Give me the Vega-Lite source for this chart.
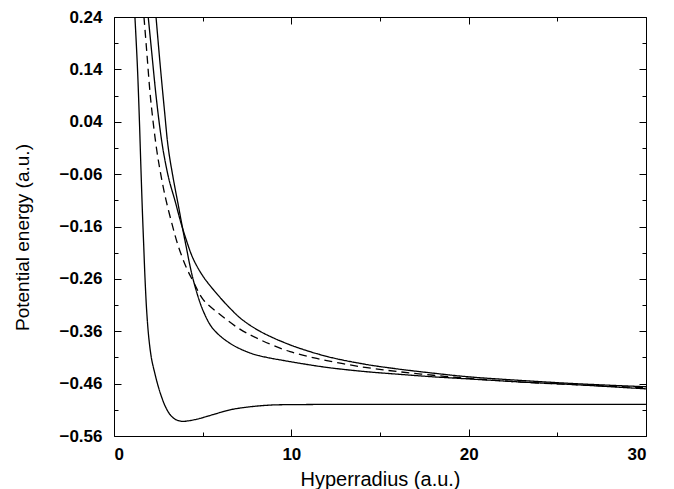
{
  "$schema": "https://vega.github.io/schema/vega-lite/v6.json",
  "width": 532,
  "height": 419,
  "autosize": {"type": "none"},
  "padding": {"left": 114, "top": 17, "right": 28, "bottom": 53},
  "background": "white",
  "config": {
    "view": {"stroke": "black", "strokeWidth": 1}
  },
  "data": {
    "values": [
      {"curve": "L", "style": "solid", "r": 1.18, "v": 0.24},
      {"curve": "L", "style": "solid", "r": 1.32, "v": 0.145},
      {"curve": "L", "style": "solid", "r": 1.43, "v": 0.045},
      {"curve": "L", "style": "solid", "r": 1.51, "v": -0.04},
      {"curve": "L", "style": "solid", "r": 1.6, "v": -0.13},
      {"curve": "L", "style": "solid", "r": 1.68, "v": -0.2},
      {"curve": "L", "style": "solid", "r": 1.75, "v": -0.26},
      {"curve": "L", "style": "solid", "r": 1.85, "v": -0.325},
      {"curve": "L", "style": "solid", "r": 1.97, "v": -0.375},
      {"curve": "L", "style": "solid", "r": 2.12, "v": -0.413},
      {"curve": "L", "style": "solid", "r": 2.3, "v": -0.44},
      {"curve": "L", "style": "solid", "r": 2.5, "v": -0.466},
      {"curve": "L", "style": "solid", "r": 2.7, "v": -0.487},
      {"curve": "L", "style": "solid", "r": 2.9, "v": -0.504},
      {"curve": "L", "style": "solid", "r": 3.16, "v": -0.519},
      {"curve": "L", "style": "solid", "r": 3.45, "v": -0.528},
      {"curve": "L", "style": "solid", "r": 3.82, "v": -0.532},
      {"curve": "L", "style": "solid", "r": 4.2, "v": -0.531},
      {"curve": "L", "style": "solid", "r": 4.66, "v": -0.528},
      {"curve": "L", "style": "solid", "r": 5.1, "v": -0.524},
      {"curve": "L", "style": "solid", "r": 5.6, "v": -0.519},
      {"curve": "L", "style": "solid", "r": 6.0, "v": -0.515},
      {"curve": "L", "style": "solid", "r": 6.54, "v": -0.51},
      {"curve": "L", "style": "solid", "r": 7.48, "v": -0.505},
      {"curve": "L", "style": "solid", "r": 8.8, "v": -0.501},
      {"curve": "L", "style": "solid", "r": 10.5, "v": -0.5},
      {"curve": "L", "style": "solid", "r": 15, "v": -0.4995},
      {"curve": "L", "style": "solid", "r": 20, "v": -0.4995},
      {"curve": "L", "style": "solid", "r": 30, "v": -0.4995},

      {"curve": "D", "style": "dashed", "r": 1.69, "v": 0.24},
      {"curve": "D", "style": "dashed", "r": 1.84, "v": 0.177},
      {"curve": "D", "style": "dashed", "r": 2.07, "v": 0.082},
      {"curve": "D", "style": "dashed", "r": 2.41, "v": -0.014},
      {"curve": "D", "style": "dashed", "r": 2.69, "v": -0.07},
      {"curve": "D", "style": "dashed", "r": 2.93, "v": -0.109},
      {"curve": "D", "style": "dashed", "r": 3.27, "v": -0.155},
      {"curve": "D", "style": "dashed", "r": 3.62, "v": -0.197},
      {"curve": "D", "style": "dashed", "r": 4.1, "v": -0.24},
      {"curve": "D", "style": "dashed", "r": 4.47, "v": -0.265},
      {"curve": "D", "style": "dashed", "r": 5.04, "v": -0.3},
      {"curve": "D", "style": "dashed", "r": 5.98, "v": -0.328},
      {"curve": "D", "style": "dashed", "r": 7.1, "v": -0.356},
      {"curve": "D", "style": "dashed", "r": 8.23, "v": -0.376},
      {"curve": "D", "style": "dashed", "r": 9.93, "v": -0.399},
      {"curve": "D", "style": "dashed", "r": 12, "v": -0.416},
      {"curve": "D", "style": "dashed", "r": 14.16, "v": -0.429},
      {"curve": "D", "style": "dashed", "r": 16, "v": -0.437},
      {"curve": "D", "style": "dashed", "r": 18, "v": -0.444},
      {"curve": "D", "style": "dashed", "r": 20, "v": -0.45},
      {"curve": "D", "style": "dashed", "r": 23, "v": -0.457},
      {"curve": "D", "style": "dashed", "r": 26, "v": -0.462},
      {"curve": "D", "style": "dashed", "r": 30, "v": -0.468},

      {"curve": "A", "style": "solid", "r": 1.93, "v": 0.24},
      {"curve": "A", "style": "solid", "r": 2.12, "v": 0.175},
      {"curve": "A", "style": "solid", "r": 2.37, "v": 0.09},
      {"curve": "A", "style": "solid", "r": 2.6, "v": 0.025},
      {"curve": "A", "style": "solid", "r": 2.8, "v": -0.02},
      {"curve": "A", "style": "solid", "r": 3.1, "v": -0.07},
      {"curve": "A", "style": "solid", "r": 3.45, "v": -0.112},
      {"curve": "A", "style": "solid", "r": 3.75, "v": -0.15},
      {"curve": "A", "style": "solid", "r": 4.05, "v": -0.183},
      {"curve": "A", "style": "solid", "r": 4.47, "v": -0.222},
      {"curve": "A", "style": "solid", "r": 5.04, "v": -0.256},
      {"curve": "A", "style": "solid", "r": 5.79, "v": -0.288},
      {"curve": "A", "style": "solid", "r": 6.54, "v": -0.316},
      {"curve": "A", "style": "solid", "r": 7.2, "v": -0.337},
      {"curve": "A", "style": "solid", "r": 8.23, "v": -0.36},
      {"curve": "A", "style": "solid", "r": 9.93, "v": -0.386},
      {"curve": "A", "style": "solid", "r": 12, "v": -0.408},
      {"curve": "A", "style": "solid", "r": 14.16, "v": -0.423},
      {"curve": "A", "style": "solid", "r": 16, "v": -0.432},
      {"curve": "A", "style": "solid", "r": 18, "v": -0.44},
      {"curve": "A", "style": "solid", "r": 20, "v": -0.447},
      {"curve": "A", "style": "solid", "r": 23, "v": -0.454},
      {"curve": "A", "style": "solid", "r": 26, "v": -0.46},
      {"curve": "A", "style": "solid", "r": 30, "v": -0.466},

      {"curve": "B", "style": "solid", "r": 2.37, "v": 0.24},
      {"curve": "B", "style": "solid", "r": 2.6, "v": 0.15},
      {"curve": "B", "style": "solid", "r": 2.85, "v": 0.06},
      {"curve": "B", "style": "solid", "r": 3.06, "v": -0.01},
      {"curve": "B", "style": "solid", "r": 3.35, "v": -0.07},
      {"curve": "B", "style": "solid", "r": 3.63, "v": -0.12},
      {"curve": "B", "style": "solid", "r": 3.82, "v": -0.155},
      {"curve": "B", "style": "solid", "r": 4.05, "v": -0.195},
      {"curve": "B", "style": "solid", "r": 4.47, "v": -0.262},
      {"curve": "B", "style": "solid", "r": 5.04, "v": -0.322},
      {"curve": "B", "style": "solid", "r": 5.6, "v": -0.356},
      {"curve": "B", "style": "solid", "r": 6.54, "v": -0.383},
      {"curve": "B", "style": "solid", "r": 7.48, "v": -0.399},
      {"curve": "B", "style": "solid", "r": 8.23, "v": -0.407},
      {"curve": "B", "style": "solid", "r": 9.93, "v": -0.418},
      {"curve": "B", "style": "solid", "r": 12, "v": -0.429},
      {"curve": "B", "style": "solid", "r": 14.16, "v": -0.437},
      {"curve": "B", "style": "solid", "r": 16, "v": -0.442},
      {"curve": "B", "style": "solid", "r": 18, "v": -0.447},
      {"curve": "B", "style": "solid", "r": 20, "v": -0.451},
      {"curve": "B", "style": "solid", "r": 23, "v": -0.457},
      {"curve": "B", "style": "solid", "r": 26, "v": -0.462},
      {"curve": "B", "style": "solid", "r": 30, "v": -0.47}
    ]
  },
  "layer": [
    {
      "mark": {"type": "line", "color": "black", "strokeWidth": 1.3, "interpolate": "catmull-rom", "clip": true},
      "encoding": {
        "x": {
          "field": "r", "type": "quantitative",
          "scale": {"domain": [0, 30], "nice": false},
          "axis": {
            "orient": "bottom",
            "domain": false,
            "grid": false,
            "ticks": false,
            "tickSize": 0,
            "values": [0, 10, 20, 30],
            "labelPadding": 10,
            "labelFont": "Liberation Sans",
            "labelFontWeight": "bold",
            "labelFontSize": 17,
            "labelColor": "black",
            "title": "Hyperradius (a.u.)",
            "titleFont": "Liberation Sans",
            "titleFontWeight": "normal",
            "titleColor": "black",
            "titleFontSize": 20,
            "titleX": 266,
            "titleY": 43,
            "titleBaseline": "middle",
            "titleAnchor": "middle"
          }
        },
        "y": {
          "field": "v", "type": "quantitative",
          "scale": {"domain": [-0.56, 0.24], "nice": false, "zero": false},
          "axis": {
            "orient": "left",
            "domain": false,
            "grid": false,
            "ticks": false,
            "tickSize": 0,
            "values": [-0.56, -0.46, -0.36, -0.26, -0.16, -0.06, 0.04, 0.14, 0.24],
            "labelExpr": "format(datum.value, '.2f')",
            "labelPadding": 12,
            "labelFont": "Liberation Sans",
            "labelFontWeight": "bold",
            "labelFontSize": 17,
            "labelColor": "black",
            "title": "Potential energy (a.u.)",
            "titleFont": "Liberation Sans",
            "titleFontWeight": "normal",
            "titleColor": "black",
            "titleFontSize": 19,
            "titleX": -92,
            "titleY": 220,
            "titleAngle": -90,
            "titleBaseline": "middle",
            "titleAnchor": "middle"
          }
        },
        "detail": {"field": "curve", "type": "nominal"},
        "strokeDash": {
          "field": "style", "type": "nominal",
          "scale": {"domain": ["solid", "dashed"], "range": [[1, 0], [8, 5]]},
          "legend": null
        }
      }
    },
    {
      "mark": {"type": "line", "opacity": 0, "clip": true},
      "encoding": {
        "x": {
          "field": "r", "type": "quantitative",
          "scale": {"domain": [0, 30], "nice": false},
          "axis": {
            "orient": "top",
            "offset": -419,
            "domain": false,
            "grid": false,
            "labels": false,
            "tickColor": "black",
            "tickWidth": 1,
            "values": [0, 5, 10, 15, 20, 25, 30],
            "tickSize": {"condition": {"test": "datum.value % 10 == 0", "value": 7}, "value": 4},
            "title": null
          }
        },
        "y": {
          "field": "v", "type": "quantitative",
          "scale": {"domain": [-0.56, 0.24], "nice": false, "zero": false},
          "axis": {
            "orient": "right",
            "offset": -532,
            "domain": false,
            "grid": false,
            "labels": false,
            "tickColor": "black",
            "tickWidth": 1,
            "values": [-0.56, -0.51, -0.46, -0.41, -0.36, -0.31, -0.26, -0.21, -0.16, -0.11, -0.06, -0.01, 0.04, 0.09, 0.14, 0.19, 0.24],
            "tickSize": {"condition": {"test": "abs(round((datum.value + 0.56) * 100)) % 10 == 0", "value": 7}, "value": 4},
            "title": null
          }
        },
        "detail": {"field": "curve", "type": "nominal"}
      }
    },
    {
      "mark": {"type": "line", "opacity": 0, "clip": true},
      "encoding": {
        "x": {
          "field": "r", "type": "quantitative",
          "scale": {"domain": [0, 30], "nice": false},
          "axis": {
            "orient": "bottom",
            "offset": -419,
            "domain": false,
            "grid": false,
            "labels": false,
            "tickColor": "black",
            "tickWidth": 1,
            "values": [0, 5, 10, 15, 20, 25, 30],
            "tickSize": {"condition": {"test": "datum.value % 10 == 0", "value": 7}, "value": 4},
            "title": null
          }
        },
        "y": {
          "field": "v", "type": "quantitative",
          "scale": {"domain": [-0.56, 0.24], "nice": false, "zero": false},
          "axis": {
            "orient": "left",
            "offset": -532,
            "domain": false,
            "grid": false,
            "labels": false,
            "tickColor": "black",
            "tickWidth": 1,
            "values": [-0.56, -0.51, -0.46, -0.41, -0.36, -0.31, -0.26, -0.21, -0.16, -0.11, -0.06, -0.01, 0.04, 0.09, 0.14, 0.19, 0.24],
            "tickSize": {"condition": {"test": "abs(round((datum.value + 0.56) * 100)) % 10 == 0", "value": 7}, "value": 4},
            "title": null
          }
        },
        "detail": {"field": "curve", "type": "nominal"}
      }
    }
  ],
  "resolve": {"axis": {"x": "independent", "y": "independent"}}
}
